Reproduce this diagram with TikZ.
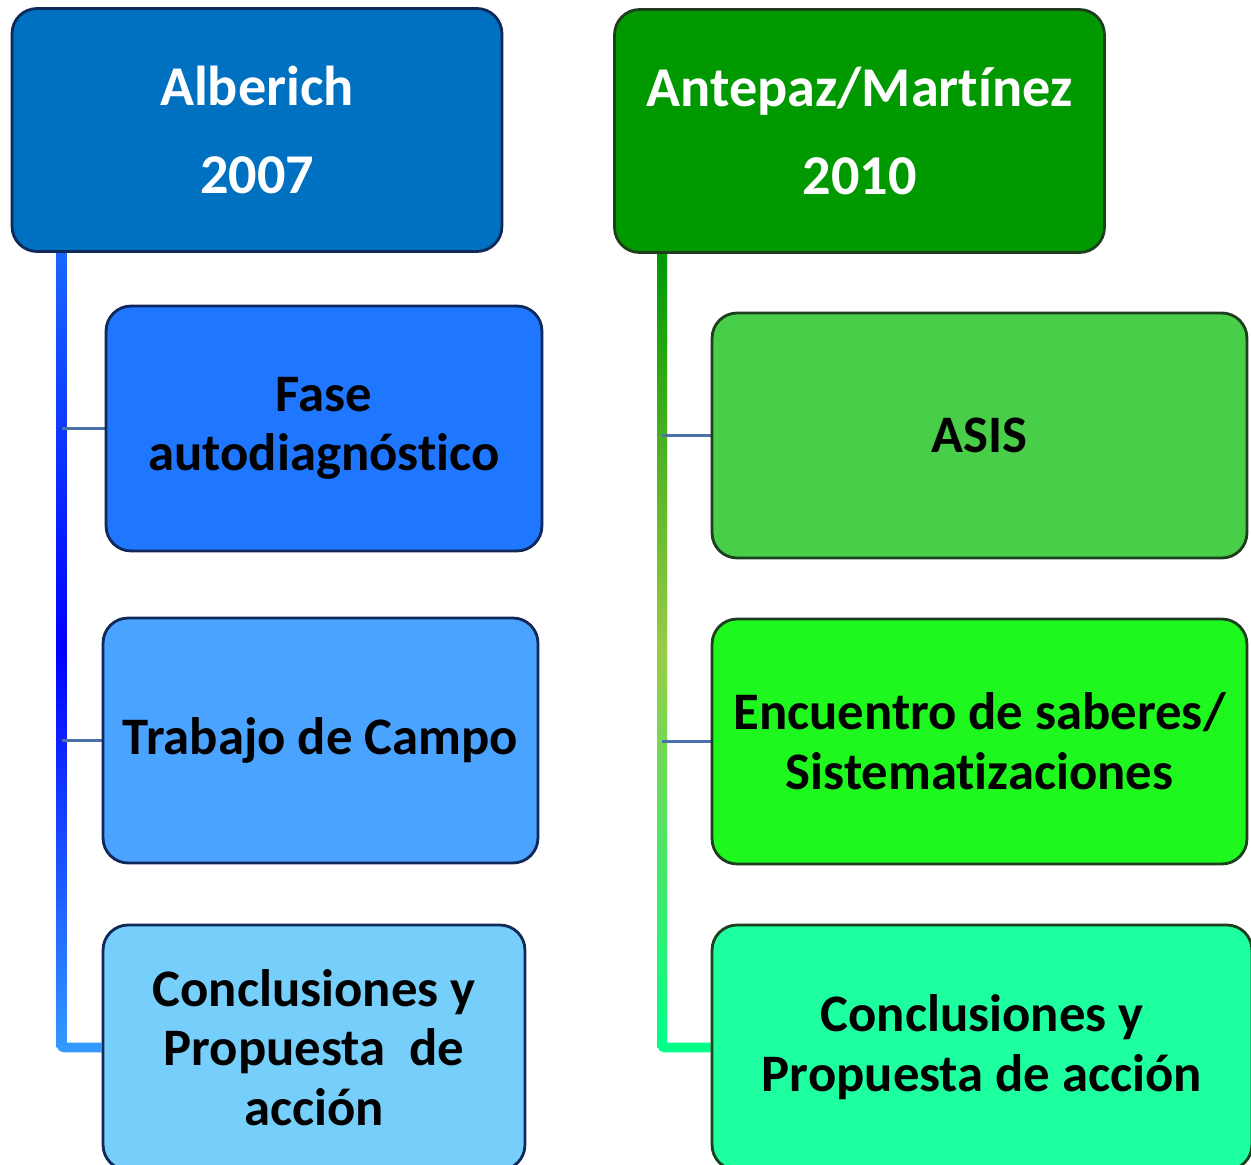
\documentclass[tikz,border=0pt]{standalone}
\usepackage{fontspec}
\setmainfont{Carlito}
\usepackage{tikz}
\usetikzlibrary{positioning,calc,backgrounds}

\definecolor{headblue}{HTML}{0070C0}
\definecolor{headgreen}{HTML}{009900}
\definecolor{navyline}{HTML}{10285A}
\definecolor{greenline}{HTML}{1E3F1E}
\definecolor{faseblue}{HTML}{1F77FF}
\definecolor{campoblue}{HTML}{4AA3FF}
\definecolor{conclblue}{HTML}{75CFFA}
\definecolor{asisgreen}{HTML}{48CE48}
\definecolor{encgreen}{HTML}{1EF81E}
\definecolor{conclgreen}{HTML}{1EFFA0}
\definecolor{branchline}{HTML}{4A72A8}
\definecolor{trunkAtop}{HTML}{1A66FF}
\definecolor{trunkAmid}{HTML}{0000FF}
\definecolor{trunkAbot}{HTML}{3399FF}
\definecolor{trunkBtop}{HTML}{009900}
\definecolor{trunkBmid}{HTML}{99CC44}
\definecolor{trunkBbot}{HTML}{00FF88}

\begin{document}
\begin{tikzpicture}[
    x=0.02cm, y=-0.02cm,
    header/.style={rectangle, rounded corners=0.5cm, line width=1.6pt, minimum width=9.8cm, minimum height=4.86cm, align=center, text=white, font=\fontsize{32}{50}\selectfont\bfseries},
    stage/.style={rectangle, rounded corners=0.5cm, line width=1.6pt, minimum height=4.9cm, align=center, font=\fontsize{30}{34}\selectfont\bfseries},
    bluestage/.style={stage, draw=navyline},
    greenstage/.style={stage, draw=greenline},
    branch/.style={draw=branchline, line width=1.7pt},
    trunk/.style={line width=5.6pt, rounded corners=0.06cm}
]
    \clip (0,0) rectangle (1251,1165);

    % Alberich column
    \node[header, fill=headblue, draw=navyline] (alberich) at (257,130) {Alberich\\2007};
    \node[bluestage, fill=faseblue, minimum width=8.72cm] (fase) at (324,428.5) {Fase\\autodiagnóst\kern0pt ico};
    \node[bluestage, fill=campoblue, minimum width=8.7cm] (campo) at (320.5,740.5) {Trabajo de Campo};
    \node[bluestage, fill=conclblue, minimum width=8.44cm] (conclA) at (314,1047.5) {Conclusiones y\\Propuesta~~de\\acción};

    % Antepaz/Martinez column
    \node[header, fill=headgreen, draw=greenline] (antepaz) at (859.5,131) {Antepaz/Mart\kern0pt ínez\\2010};
    \node[greenstage, fill=asisgreen, minimum width=10.7cm] (asis) at (979.5,435.5) {ASIS};
    \node[greenstage, fill=encgreen, minimum width=10.7cm] (encuentro) at (979.5,741.5) {Encuentro de saberes/\\Sistemat\kern0pt izaciones};
    \node[greenstage, fill=conclgreen, minimum width=10.8cm] (conclB) at (982,1047.5) {Conclusiones y\\Propuesta de acción};

    \coordinate (tA) at ($(alberich.south west)+(51,0)$);
    \coordinate (tB) at ($(antepaz.south west)+(49,0)$);

    \begin{scope}[on background layer]
        \draw[trunk, draw=trunkAbot] (tA) |- (conclA.west);
        \shade[top color=trunkAtop, bottom color=trunkAbot, middle color=trunkAmid]
            ($(tA)+(-5,0)$) rectangle ($(tA |- conclA.west)+(5,0)$);
        \draw[branch] (fase.west) -- (fase.west -| tA);
        \draw[branch] (campo.west) -- (campo.west -| tA);

        \draw[trunk, draw=trunkBbot] (tB) |- (conclB.west);
        \shade[top color=trunkBtop, bottom color=trunkBbot, middle color=trunkBmid]
            ($(tB)+(-5,0)$) rectangle ($(tB |- conclB.west)+(5,0)$);
        \draw[branch] (asis.west) -- (asis.west -| tB);
        \draw[branch] (encuentro.west) -- (encuentro.west -| tB);
    \end{scope}
\end{tikzpicture}
\end{document}
